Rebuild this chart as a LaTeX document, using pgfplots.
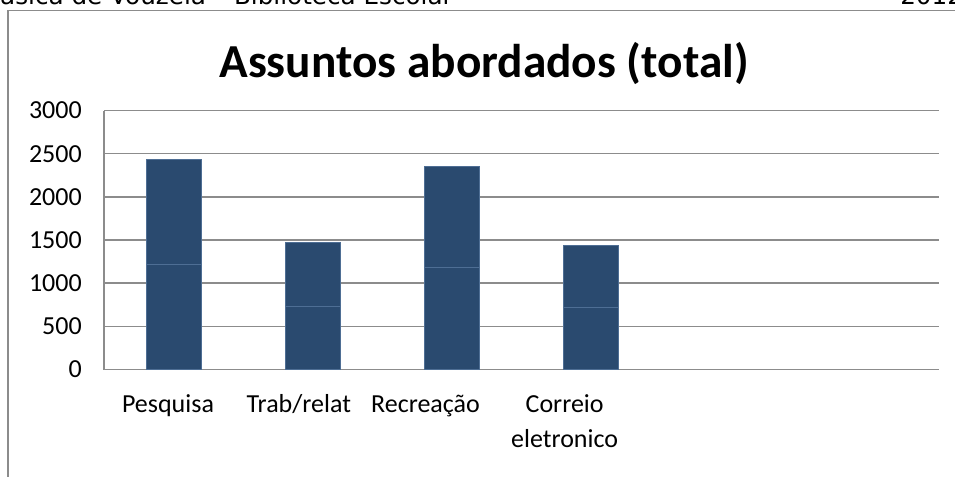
\documentclass[border=0pt]{standalone}
\usepackage{pgfplots}
\pgfplotsset{compat=1.18}
\usepackage{fontspec}
\setmainfont{Carlito}
\newfontfamily\hdr{DejaVu Sans}

\definecolor{barblue}{RGB}{42,74,111}
\definecolor{barline}{RGB}{78,110,148}
\definecolor{gridgray}{RGB}{140,140,140}

\begin{document}
\begin{tikzpicture}
  % page = 955 x 477 px, 1 px = 0.75pt, y downwards
  \useasboundingbox (0,0) rectangle (716.25pt,-357.75pt);
  \clip (0,0) rectangle (716.25pt,-357.75pt);

  \begin{scope}[x=0.75pt,y=-0.75pt]
    % header of the page, mostly cut off
    \node[anchor=base west, inner sep=0pt, font=\hdr\fontsize{18.5pt}{22pt}\selectfont]
      at (-17,4.5) {Básica de Vouzela – Biblioteca Escolar};
    \node[anchor=base west, inner sep=0pt, font=\hdr\fontsize{18.5pt}{22pt}\selectfont]
      at (900,4.5) {2012};
    % chart frame
    \draw[gridgray, line width=1.1pt] (8,480) -- (8,10.5) -- (960,10.5);
    % title
    \node[anchor=base, inner sep=0pt, font=\bfseries\fontsize{35.5pt}{42pt}\selectfont]
      at (484,77.5) {Assuntos abordados (total)};
  \end{scope}

  \begin{axis}[
      at={(78pt,-277.125pt)}, anchor=south west,
      scale only axis, width=626.25pt, height=194.25pt,
      xmin=-0.5, xmax=5.5, ymin=0, ymax=3000,
      ybar stacked, bar width=41.25pt,
      axis x line=bottom, axis y line=left,
      axis line style={-, gridgray, line width=1.1pt},
      ytick={0,500,1000,1500,2000,2500,3000},
      ymajorgrids, grid style={gridgray, line width=1.1pt},
      xtick={-0.04,0.9,1.81,2.81},
      xticklabels={\strut Pesquisa, \strut Trab/relat, \strut Recreação, {\strut Correio\\eletronico}},
      major tick length=0pt,
      tick label style={font=\fontsize{19.5pt}{26pt}\selectfont},
      /pgf/number format/assume math mode=true,
      /pgf/number format/1000 sep={},
      yticklabel style={anchor=east, inner sep=0pt, xshift=-16.5pt},
      xticklabel style={anchor=north, inner sep=0pt, align=center, yshift=-14.2pt},
    ]
    \addplot[fill=barblue, draw=barline, line width=0.6pt]
      coordinates {(0,1218) (1,736) (2,1178) (3,720)};
    \addplot[fill=barblue, draw=barline, line width=0.6pt]
      coordinates {(0,1218) (1,736) (2,1178) (3,720)};
  \end{axis}
\end{tikzpicture}
\end{document}
